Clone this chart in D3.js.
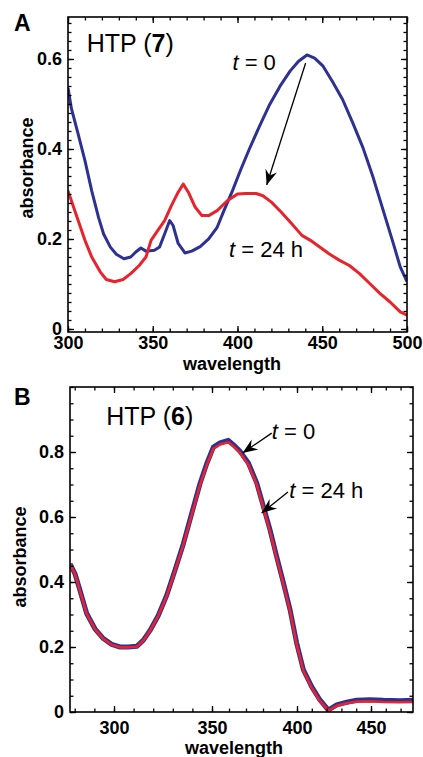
<!DOCTYPE html>
<html>
<head>
<meta charset="utf-8">
<script src="https://cdn.jsdelivr.net/npm/d3@7"></script>
<style>
body { margin: 0; background: #fff; }
text { font-family: "Liberation Sans", Arial, Helvetica, sans-serif; }
</style>
</head>
<body>
<script>
// panel A, HTP (7): t = 0 (blue) and t = 24 h (red)
const aWaveT0 = [300, 302, 306, 310, 314, 318, 321, 325, 328.5, 333, 337, 340, 343, 346, 351, 354, 357, 360, 362, 365, 369, 373, 378, 383, 388, 392, 397, 402, 407, 413, 419, 425, 431, 436, 441, 445.5, 450.5, 456, 462, 468, 474, 480, 486, 492, 496, 500];
const aAbsT0 = [0.536, 0.49, 0.433, 0.374, 0.307, 0.248, 0.211, 0.182, 0.166, 0.156, 0.16, 0.171, 0.18, 0.173, 0.175, 0.182, 0.211, 0.241, 0.23, 0.19, 0.169, 0.173, 0.183, 0.2, 0.226, 0.263, 0.307, 0.355, 0.4, 0.451, 0.499, 0.539, 0.573, 0.595, 0.609, 0.602, 0.584, 0.55, 0.51, 0.458, 0.403, 0.337, 0.263, 0.189, 0.138, 0.105];
const aWave24 = [300, 302, 306, 310, 314, 319, 322.6, 327.5, 332.5, 337, 342, 346, 349, 353, 357, 361, 365, 368, 371, 375, 379, 383, 388, 394, 400, 405, 411, 415, 420, 426, 432, 438, 443, 448.5, 454, 460, 466, 472, 478, 484, 490, 496, 500];
const aAbs24 = [0.307, 0.285, 0.241, 0.197, 0.16, 0.127, 0.11, 0.105, 0.11, 0.123, 0.141, 0.16, 0.197, 0.219, 0.241, 0.274, 0.304, 0.322, 0.304, 0.271, 0.252, 0.252, 0.263, 0.285, 0.3, 0.301, 0.301, 0.296, 0.282, 0.259, 0.234, 0.208, 0.197, 0.182, 0.167, 0.153, 0.141, 0.123, 0.101, 0.079, 0.06, 0.038, 0.031];
const aXTicks = [300, 350, 400, 450, 500];
const aYTicks = [0, 0.2, 0.4, 0.6];

// panel B, HTP (6): both curves almost on top of each other
const bWave = [277.6, 280.1, 282.7, 286.1, 290.3, 294.6, 298.8, 303.1, 307.3, 311.6, 315, 318.4, 322.6, 326.9, 331.1, 335.4, 339.6, 343.9, 347.3, 350.8, 354.7, 359.6, 362.5, 366.5, 371.4, 376.3, 380.2, 384.1, 388, 392, 395.9, 399.8, 404.3, 409.9, 415.5, 421.2, 426.8, 433.6, 440.3, 449.3, 458.3, 469.6, 478.4];
const bAbsT0 = [0.456, 0.426, 0.374, 0.303, 0.256, 0.226, 0.208, 0.2, 0.2, 0.202, 0.221, 0.251, 0.297, 0.359, 0.436, 0.518, 0.61, 0.703, 0.764, 0.815, 0.828, 0.836, 0.823, 0.802, 0.766, 0.705, 0.633, 0.561, 0.479, 0.397, 0.315, 0.212, 0.13, 0.078, 0.037, 0.006, 0.022, 0.03, 0.036, 0.038, 0.036, 0.035, 0.036];
const bAbs24 = [0.455, 0.425, 0.373, 0.302, 0.255, 0.225, 0.207, 0.199, 0.199, 0.201, 0.22, 0.25, 0.296, 0.357, 0.434, 0.515, 0.606, 0.699, 0.759, 0.81, 0.823, 0.83, 0.818, 0.797, 0.761, 0.7, 0.628, 0.556, 0.474, 0.393, 0.311, 0.208, 0.127, 0.075, 0.034, 0.004, 0.019, 0.027, 0.032, 0.033, 0.031, 0.03, 0.031];
const bXTicks = [300, 350, 400, 450];
const bYTicks = [0, 0.2, 0.4, 0.6, 0.8];

const blue = "#2e3192";
const red = "#e8232c";

const svg = d3.select("body").append("svg")
  .attr("width", 423)
  .attr("height", 757);

const defs = svg.append("defs");
defs.append("marker")
  .attr("id", "head")
  .attr("markerUnits", "userSpaceOnUse")
  .attr("viewBox", "-16 -7 18 14")
  .attr("refX", 0).attr("refY", 0)
  .attr("markerWidth", 18).attr("markerHeight", 14)
  .attr("orient", "auto")
  .append("path")
  .attr("d", "M0,0 L-15,-6 L-10,0 L-15,6 Z")
  .attr("fill", "#000");

const fmt = d => d === 0 ? "0" : (d < 1.5 ? d3.format(".1f")(d) : d);

function tickSet(g, axisFn, scale, values, len, transform, pad, labels) {
  const ax = axisFn(scale)
    .tickValues(values)
    .tickSizeInner(-len)
    .tickSizeOuter(0)
    .tickPadding(pad)
    .tickFormat(labels ? fmt : "");
  const gg = g.append("g").attr("transform", transform).call(ax);
  gg.select(".domain").remove();
  gg.selectAll("line").attr("stroke", "#000").attr("stroke-width", 1.3);
  gg.selectAll("text")
    .attr("fill", "#000")
    .style("font", "bold 18px 'Liberation Sans', Arial, sans-serif");
}

function drawPanel(p) {
  const g = svg.append("g");
  const xr = p.x.range(), yr = p.y.range();
  const left = xr[0], right = xr[xr.length - 1];
  const top = yr[1], bottom = yr[0];

  defs.append("clipPath").attr("id", p.id)
    .append("rect")
    .attr("x", left).attr("y", top)
    .attr("width", right - left).attr("height", bottom - top);

  const line = d3.line().x(d => p.x(d[0])).y(d => p.y(d[1]));
  p.series.forEach(s => {
    g.append("path")
      .datum(d3.zip(s.wave, s.abs))
      .attr("clip-path", `url(#${p.id})`)
      .attr("fill", "none")
      .attr("stroke", s.color)
      .attr("stroke-width", s.width)
      .attr("stroke-linejoin", "round")
      .attr("d", line);
  });

  // frame and inward ticks on all four sides
  g.append("rect")
    .attr("x", left).attr("y", top)
    .attr("width", right - left).attr("height", bottom - top)
    .attr("fill", "none")
    .attr("stroke", "#000")
    .attr("stroke-width", 1.6);

  tickSet(g, d3.axisBottom, p.x, p.xMinor, 3.5, `translate(0,${bottom})`, 0, false);
  tickSet(g, d3.axisBottom, p.x, p.xMajor, 6, `translate(0,${bottom})`, p.xPad, true);
  tickSet(g, d3.axisTop, p.x, p.xMinor, 3.5, `translate(0,${top})`, 0, false);
  tickSet(g, d3.axisTop, p.x, p.xMajor, 6, `translate(0,${top})`, 0, false);
  tickSet(g, d3.axisLeft, p.y, p.yMinor, 3.5, `translate(${left},0)`, 0, false);
  tickSet(g, d3.axisLeft, p.y, p.yMajor, 6, `translate(${left},0)`, 6, true);
  tickSet(g, d3.axisRight, p.y, p.yMinor, 3.5, `translate(${right},0)`, 0, false);
  tickSet(g, d3.axisRight, p.y, p.yMajor, 6, `translate(${right},0)`, 0, false);

  // axis titles
  g.append("text")
    .attr("x", p.xTitle[0]).attr("y", p.xTitle[1])
    .attr("text-anchor", "middle")
    .style("font", "bold 18px 'Liberation Sans', Arial, sans-serif")
    .text("wavelength");
  g.append("text")
    .attr("transform", `translate(${p.yTitle[0]},${p.yTitle[1]}) rotate(-90)`)
    .attr("text-anchor", "middle")
    .style("font", "bold 18px 'Liberation Sans', Arial, sans-serif")
    .text("absorbance");

  // panel letter
  g.append("text")
    .attr("x", 14).attr("y", p.letterY)
    .style("font", "bold 23px 'Liberation Sans', Arial, sans-serif")
    .text(p.letter);

  // compound name
  const name = g.append("text")
    .attr("x", p.x(p.name[0])).attr("y", p.y(p.name[1]))
    .style("font", "25px 'Liberation Sans', Arial, sans-serif");
  name.append("tspan").text("HTP (");
  name.append("tspan").attr("font-weight", "bold").text(p.name[2]);
  name.append("tspan").text(")");

  // time labels
  p.labels.forEach(l => {
    const t = g.append("text")
      .attr("x", p.x(l.at[0])).attr("y", p.y(l.at[1]))
      .style("font", "22px 'Liberation Sans', Arial, sans-serif");
    t.append("tspan").attr("font-style", "italic").text("t");
    t.append("tspan").text(l.text);
  });

  // arrows
  p.arrows.forEach(a => {
    g.append("line")
      .attr("x1", p.x(a.from[0])).attr("y1", p.y(a.from[1]))
      .attr("x2", p.x(a.to[0])).attr("y2", p.y(a.to[1]))
      .attr("stroke", "#000")
      .attr("stroke-width", 1.3)
      .attr("marker-end", "url(#head)");
  });
}

drawPanel({
  id: "clipA",
  x: d3.scaleLinear().domain([300, 500]).range([68, 407]),
  y: d3.scaleLinear().domain([-0.0067, 0.6933]).range([332, 17]),
  xMajor: aXTicks,
  xMinor: d3.range(300, 501, 10),
  yMajor: aYTicks,
  yMinor: d3.range(0, 35).map(i => i * 0.02),
  xPad: 4,
  xTitle: [232, 370],
  yTitle: [33, 168],
  letter: "A", letterY: 31,
  name: [311, 0.616, "7"],
  series: [
    { wave: aWaveT0, abs: aAbsT0, color: blue, width: 3 },
    { wave: aWave24, abs: aAbs24, color: red, width: 3 }
  ],
  labels: [
    { at: [397, 0.575], text: " = 0" },
    { at: [395, 0.16], text: " = 24 h" }
  ],
  arrows: [
    { from: [440.2, 0.591], to: [417.2, 0.32] }
  ]
});

drawPanel({
  id: "clipB",
  x: d3.scaleLinear().domain([277.6, 300, 350, 400, 450, 478.4]).range([70, 114, 212, 297, 371, 413]),
  y: d3.scaleLinear().domain([0, 1]).range([712, 387]),
  xMajor: bXTicks,
  xMinor: d3.range(280, 471, 10),
  yMajor: bYTicks,
  yMinor: d3.range(0, 21).map(i => i * 0.05),
  xPad: 9,
  xTitle: [234, 754],
  yTitle: [26, 557],
  letter: "B", letterY: 405,
  name: [296, 0.883, "6"],
  series: [
    { wave: bWave, abs: bAbsT0, color: blue, width: 5 },
    { wave: bWave, abs: bAbs24, color: red, width: 2.6 }
  ],
  labels: [
    { at: [385.2, 0.84], text: " = 0" },
    { at: [395.5, 0.658], text: " = 24 h" }
  ],
  arrows: [
    { from: [385.1, 0.858], to: [368, 0.797] },
    { from: [394.7, 0.677], to: [379.2, 0.612] }
  ]
});
</script>
</body>
</html>
